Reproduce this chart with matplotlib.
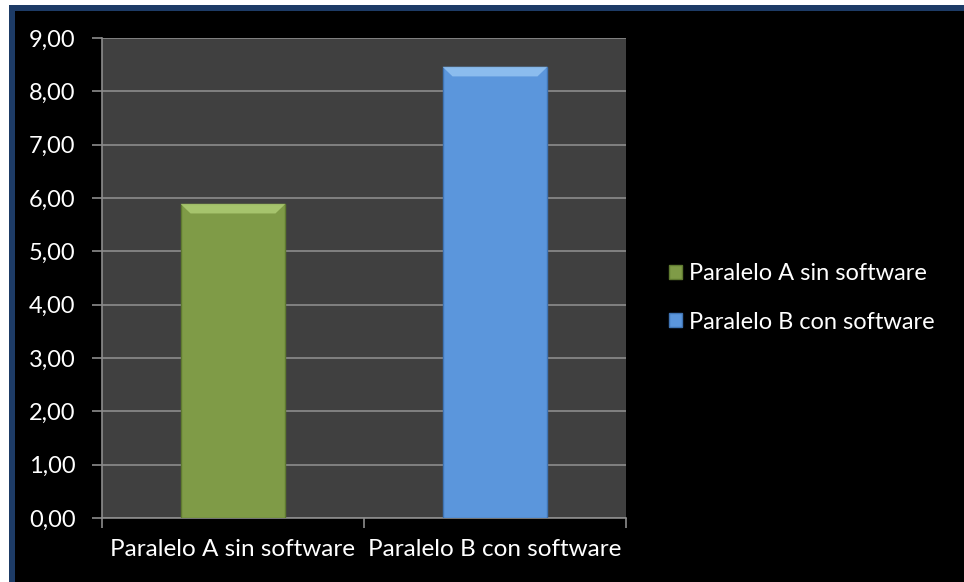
import matplotlib
matplotlib.use("Agg")
import matplotlib.pyplot as plt
from matplotlib.patches import Rectangle, Polygon

categories = ["Paralelo A sin software", "Paralelo B con software"]
values = [5.89, 8.46]
colors = ["#7f9b47", "#5b96dc"]
highlight = ["#b4d27a", "#9ccaf5"]
edges = ["#5f7a30", "#3f74b4"]
yticks = [0, 1, 2, 3, 4, 5, 6, 7, 8, 9]

plt.rcParams['font.family'] = ['Lato', 'DejaVu Sans']
FS = 17.5

W, H = 964, 582
fig = plt.figure(figsize=(9.64, 5.82), dpi=100)
fig.patch.set_facecolor("white")
# black panel with blue band on left and top
fig.patches.append(Rectangle((9 / W, 0), 1 - 9 / W, 1 - 5 / H, transform=fig.transFigure,
                             facecolor="black", edgecolor="none", zorder=-3))
fig.patches.append(Rectangle((9 / W, 0), 6 / W, 1 - 5 / H, transform=fig.transFigure,
                             facecolor="#1d3b66", edgecolor="none", zorder=-2))
fig.patches.append(Rectangle((9 / W, 1 - 11 / H), 1 - 9 / W, 6 / H, transform=fig.transFigure,
                             facecolor="#1d3b66", edgecolor="none", zorder=-2))

ax = fig.add_axes([0.1058, 0.110, 0.5436, 0.8247])
ax.set_facecolor("#404040")
x = [0, 1]
bars = ax.bar(x, values, width=0.4, color=colors, edgecolor=edges, linewidth=1.0, zorder=3)
# bevel highlight at top of each bar
for xi, v, hc in zip(x, values, highlight):
    h = 0.18
    ins = 0.038
    poly = Polygon([(xi - 0.2, v), (xi + 0.2, v), (xi + 0.2 - ins, v - h), (xi - 0.2 + ins, v - h)],
                   closed=True, facecolor=hc, edgecolor="none", alpha=0.75, zorder=4)
    ax.add_patch(poly)

ax.set_xlim(-0.5, 1.5)
ax.set_ylim(0, 9)
ax.set_yticks(yticks)
ax.set_yticklabels([f"{t:.2f}".replace(".", ",") for t in yticks], color="white", fontsize=17)
ax.yaxis.grid(True, color="#8c8c8c", linewidth=1.2, zorder=1)
ax.set_axisbelow(True)
ax.set_xticks([-0.5, 0.5, 1.5], minor=False)
ax.set_xticklabels(["", "", ""])
ax.set_xticks(x, minor=True)
ax.set_xticklabels(categories, minor=True, color="white", fontsize=FS)
ax.tick_params(axis="x", which="minor", length=0, pad=15)
ax.tick_params(axis="x", which="major", length=7, color="#8c8c8c", width=1.2)
ax.tick_params(axis="y", length=7, color="#8c8c8c", width=1.2, pad=12)
for s in ["top", "right"]:
    ax.spines[s].set_visible(False)
for s in ["left", "bottom"]:
    ax.spines[s].set_color("#8c8c8c")
    ax.spines[s].set_linewidth(1.2)

handles = [Rectangle((0, 0), 1, 1, facecolor=c, edgecolor=e) for c, e in zip(colors, edges)]
leg = fig.legend(handles, categories, loc="center left", bbox_to_anchor=(0.6715, 0.488),
                 frameon=False, fontsize=17, labelcolor="white", handlelength=0.55,
                 handleheight=0.55, handletextpad=0.3, labelspacing=1.15)

fig.savefig("out.png", dpi=100, facecolor=fig.get_facecolor())
